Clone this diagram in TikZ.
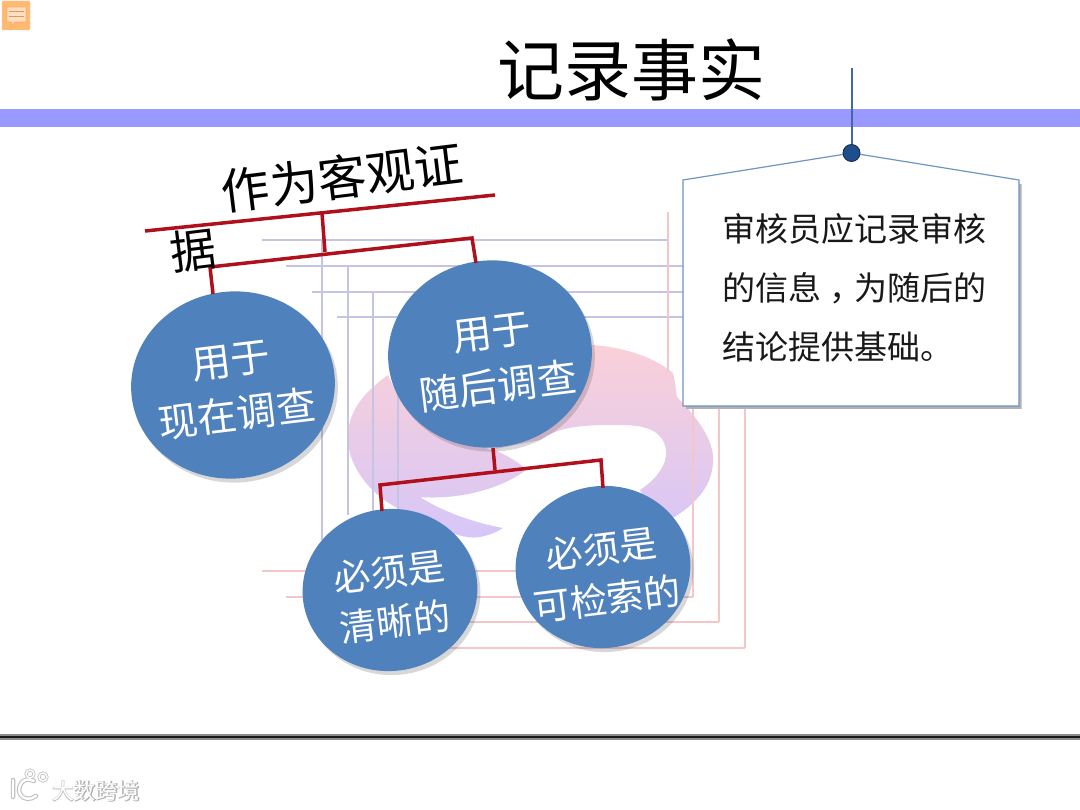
\documentclass[tikz,border=0pt]{standalone}
\usepackage{fontspec}
\setmainfont{Noto Sans CJK SC}
\newfontfamily\cjkfat[FakeBold=4]{Noto Sans CJK SC}
\usetikzlibrary{shapes.geometric,shadows,calc}
\definecolor{barblue}{HTML}{9999FF}
\definecolor{discblue}{HTML}{4F81BD}
\definecolor{linkred}{HTML}{B0101C}
\definecolor{gridlav}{HTML}{C6C4E4}
\definecolor{gridpink}{HTML}{F3C6CA}
\definecolor{calloutblue}{HTML}{6F94C6}
\definecolor{pinblue}{HTML}{1F4E8C}
\definecolor{swooshtop}{HTML}{FBD0D8}
\definecolor{swooshlow}{HTML}{D6C6F8}
\newcommand{\fs}[1]{\fontsize{#1}{#1}\selectfont}
\tikzset{
  x=1pt,y=-1pt,
  disc/.style={ellipse,fill=discblue,inner sep=0pt,
    drop shadow={shadow xshift=3pt,shadow yshift=-4pt,opacity=.22,fill=black!70}},
  disclabel/.style={text=white,align=center,inner sep=0pt,rotate=7},
  linkline/.style={draw=linkred,line width=3.5pt,line join=miter},
  lavline/.style={draw=gridlav,line width=2.6pt},
  pinkline/.style={draw=gridpink,line width=2.6pt},
  bodytext/.style={anchor=west,inner sep=0pt,text=black!90,font=\fs{33}},
  headtext/.style={inner sep=0pt,text=black},
  markstext/.style={inner sep=0pt,font=\fs{22}},
}
\begin{document}
\begin{tikzpicture}
\useasboundingbox (0,0) rectangle (1080,810);
\fill[white] (0,0) rectangle (1080,810);
% header band
\fill[barblue] (0,109) rectangle (1080,127);
% note icon
\fill[rounded corners=1pt,fill=orange!55!white,draw=orange!40!white] (2,1) rectangle (30,30);
\fill[orange!25!white,draw=orange!65!white,line width=.6pt] (7,7) -- (26,7) -- (26,22) -- (15,22) -- (12,26) -- (12,22) -- (7,22) -- cycle;
\draw[orange!70!black!60,line width=1pt] (9,12) -- (24,12) (9,17) -- (24,17);
% swoosh
\shade[top color=swooshtop,bottom color=swooshlow]
  (388,375) .. controls (360,395) and (347,415) .. (348,440)
  .. controls (350,480) and (390,510) .. (420,517)
  .. controls (440,530) and (465,540) .. (480,537)
  .. controls (490,535) and (497,532) .. (503,528)
  .. controls (470,522) and (440,510) .. (420,497)
  .. controls (455,500) and (500,490) .. (526,470)
  .. controls (520,462) and (505,455) .. (495,450)
  -- (560,345)
  .. controls (600,342) and (645,350) .. (673,373)
  .. controls (676,385) and (676,392) .. (677,397)
  .. controls (695,415) and (715,440) .. (713,462)
  .. controls (712,490) and (690,510) .. (660,525)
  -- (640,490)
  .. controls (655,480) and (668,465) .. (666,450)
  .. controls (663,430) and (645,425) .. (620,425)
  .. controls (590,425) and (560,425) .. (540,440)
  -- (490,450) -- (400,400) -- cycle;
% grid lines
\draw[lavline] (262,240) -- (668,240);
\draw[lavline] (286,266) -- (683,266);
\draw[lavline] (312,292) -- (683,292);
\draw[lavline] (337,317) -- (683,317);
\draw[lavline] (322,240) -- (322,540);
\draw[lavline] (348,266) -- (348,515);
\draw[lavline] (373,292) -- (373,512);
\draw[lavline] (398,317) -- (398,510);
\draw[pinkline] (262,571) -- (668,571);
\draw[pinkline] (286,597) -- (693,597);
\draw[pinkline] (312,622) -- (719,622);
\draw[pinkline] (337,648) -- (745,648);
\draw[pinkline] (668,212) -- (668,372);
\draw[pinkline] (693,400) -- (693,597);
\draw[pinkline] (719,400) -- (719,622);
\draw[pinkline] (745,400) -- (745,648);
% discs
\node[disc,minimum width=204pt,minimum height=187pt,rotate=7] (now) at (233,385) {};
\node[disc,minimum width=204pt,minimum height=187pt,rotate=7] (later) at (490,354) {};
\node[disc,minimum width=175pt,minimum height=162pt,rotate=7] (clear) at (390,590) {};
\node[disc,minimum width=175pt,minimum height=162pt,rotate=7] (find) at (603,567) {};
\node[disclabel,font=\fs{39.5}] (nowtext) at (234,388) {用于\\[15pt]现在调查};
\node[disclabel,font=\fs{39.5}] (latertext) at (495,360) {用于\\[15pt]随后调查};
\node[disclabel,font=\fs{37}] (cleartext) at (392,597) {必须是\\[13pt]清晰的};
\node[disclabel,font=\fs{37}] (findtext) at (604,574) {必须是\\[13pt]可检索的};
% connectors
\coordinate (topL) at (145,231);
\coordinate (topR) at (495,195);
\coordinate (topM) at (322,213);
\coordinate (midM) at (325,252);
\coordinate (midL) at (210,267);
\coordinate (midR) at (472,238);
\coordinate (lowT) at (493,448);
\coordinate (lowM) at (495,470);
\coordinate (lowL) at (380,485);
\coordinate (lowR) at (601,460);
\coordinate (nowT) at (213,294);
\coordinate (laterT) at (476,263);
\coordinate (clearT) at (382,511);
\coordinate (findT) at (603,488);
\draw[linkline] (topL) -- (topR);
\draw[linkline] (topM) -- (midM);
\draw[linkline] (nowT) -- (midL) -- (midR) -- (laterT);
\draw[linkline] (lowT) -- (lowM);
\draw[linkline] (clearT) -- (lowL) -- (lowR) -- (findT);
% headings
\node[headtext,font=\fs{67}] (title) at (631,70) {记录事实};
\node[headtext,font=\fs{48.5},rotate=7] (objective) at (342,177) {作为客观证};
\node[headtext,font=\fs{46},rotate=7] (objective2) at (193,250) {据};
% callout
\fill[black!30] (686,184) -- (852,157) -- (1021.5,184) -- (1021.5,409) -- (686,409) -- cycle;
\draw[fill=white,draw=calloutblue,line width=1.2pt] (683,180) -- (852,153) -- (1019,180) -- (1019,406) -- (683,406) -- cycle;
\coordinate (pintop) at (851.5,68);
\node[circle,fill=pinblue,draw=black!50!pinblue,line width=.8pt,minimum size=17pt,inner sep=0pt] (pin) at (851.5,153) {};
\draw[pinblue!85!white,line width=2pt] (pintop) -- (pin);
\node[bodytext] (l1) at (722,229) {审核员应记录审核};
\node[bodytext] (l2) at (722,288) {的信息\hspace{8pt}，\hspace{-8pt}为随后的};
\node[bodytext] (l3) at (722,347) {结论提供基础。};
% footer rule
\fill[black!45] (0,734) rectangle (1080,739.5);
\fill[black!90] (0,735.5) rectangle (1080,738);
% watermark
\begin{scope}[line cap=round]
\draw[black!25,line width=4.5pt] (13,780) -- (13,797) (34,781) .. controls (22,775) and (17,788) .. (20,794) .. controls (23,800) and (31,800) .. (36,796);
\draw[black!25,line width=3pt] (30,774) circle (4) (43,777) circle (4);
\draw[white,line width=2.4pt] (13,780) -- (13,797) (34,781) .. controls (22,775) and (17,788) .. (20,794) .. controls (23,800) and (31,800) .. (36,796);
\draw[white,line width=1.4pt] (30,774) circle (4) (43,777) circle (4);
\end{scope}
\node[markstext,text=black!30] (markshade) at (96,791) {\cjkfat 大数跨境};
\node[markstext,text=white] (mark) at (96,791) {大数跨境};
\end{tikzpicture}
\end{document}
